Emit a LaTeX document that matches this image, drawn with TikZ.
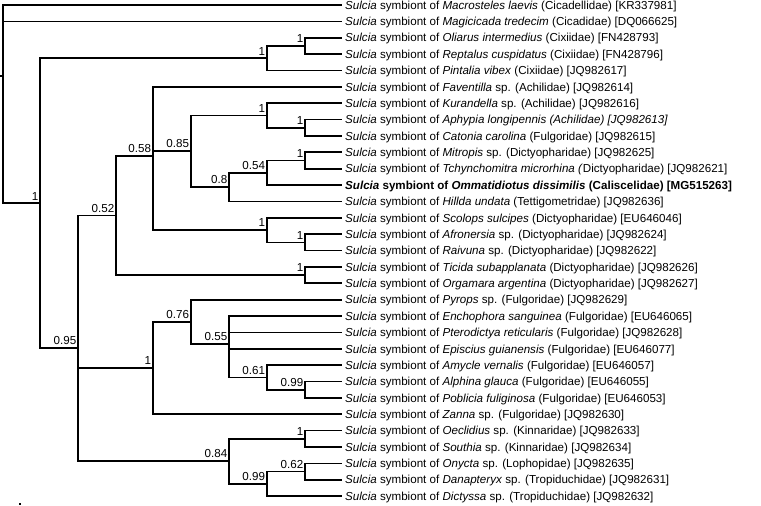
\documentclass[tikz,border=0pt]{standalone}
\usepackage{fontspec}
\setmainfont{Liberation Sans}
\usepackage{tikz}
\tikzstyle{branch} = [draw, line width=1.7pt]
\tikzstyle{leaf} = [anchor=west, inner xsep=3pt, inner ysep=0pt, text depth=0pt,
    font=\fontsize{11.6}{13}\selectfont]
\tikzstyle{support} = [anchor=south east, inner xsep=1.5pt, inner ysep=3pt,
    font=\fontsize{11.6}{13}\selectfont]
\newcommand{\sulcia}{\textit{Sulcia} symbiont of}

\begin{document}
\begin{tikzpicture}[x=1pt, y=-1pt]
    \useasboundingbox (0,0) rectangle (761,506);
    % leaves
    \node [leaf] (l1)  at (342,5.0)   {\sulcia\ \textit{Macrosteles laevis} (Cicadellidae) [KR337981]};
    \node [leaf] (l2)  at (342,21.4)  {\sulcia\ \textit{Magicicada tredecim} (Cicadidae) [DQ066625]};
    \node [leaf] (l3)  at (342,37.7)  {\sulcia\ \textit{Oliarus intermedius} (Cixiidae) [FN428793]};
    \node [leaf] (l4)  at (342,54.1)  {\sulcia\ \textit{Reptalus cuspidatus} (Cixiidae) [FN428796]};
    \node [leaf] (l5)  at (342,70.5)  {\sulcia\ \textit{Pintalia vibex} (Cixiidae) [JQ982617]};
    \node [leaf] (l6)  at (342,86.9)  {\sulcia\ \textit{Faventilla} sp. (Achilidae) [JQ982614]};
    \node [leaf] (l7)  at (342,103.2) {\sulcia\ \textit{Kurandella} sp. (Achilidae) [JQ982616]};
    \node [leaf] (l8)  at (342,119.6) {\sulcia\ \textit{Aphypia longipennis (Achilidae) [JQ982613]}};
    \node [leaf] (l9)  at (342,136.0) {\sulcia\ \textit{Catonia carolina} (Fulgoridae) [JQ982615]};
    \node [leaf] (l10) at (342,152.3) {\sulcia\ \textit{Mitropis} sp. (Dictyopharidae) [JQ982625]};
    \node [leaf] (l11) at (342,168.7) {\sulcia\ \textit{Tchynchomitra microrhina (}Dictyopharidae) [JQ982621]};
    \node [leaf] (l12) at (342,185.1) {\bfseries\sulcia\ \textit{Ommatidiotus dissimilis} (Caliscelidae) [MG515263]};
    \node [leaf] (l13) at (342,201.4) {\sulcia\ \textit{Hillda undata} (Tettigometridae) [JQ982636]};
    \node [leaf] (l14) at (342,217.8) {\sulcia\ \textit{Scolops sulcipes} (Dictyopharidae) [EU646046]};
    \node [leaf] (l15) at (342,234.2) {\sulcia\ \textit{Afronersia} sp. (Dictyopharidae) [JQ982624]};
    \node [leaf] (l16) at (342,250.6) {\sulcia\ \textit{Raivuna} sp. (Dictyopharidae) [JQ982622]};
    \node [leaf] (l17) at (342,266.9) {\sulcia\ \textit{Ticida subapplanata} (Dictyopharidae) [JQ982626]};
    \node [leaf] (l18) at (342,283.3) {\sulcia\ \textit{Orgamara argentina} (Dictyopharidae) [JQ982627]};
    \node [leaf] (l19) at (342,299.7) {\sulcia\ \textit{Pyrops} sp. (Fulgoridae) [JQ982629]};
    \node [leaf] (l20) at (342,316.0) {\sulcia\ \textit{Enchophora sanguinea} (Fulgoridae) [EU646065]};
    \node [leaf] (l21) at (342,332.4) {\sulcia\ \textit{Pterodictya reticularis} (Fulgoridae) [JQ982628]};
    \node [leaf] (l22) at (342,348.8) {\sulcia\ \textit{Episcius guianensis} (Fulgoridae) [EU646077]};
    \node [leaf] (l23) at (342,365.1) {\sulcia\ \textit{Amycle vernalis} (Fulgoridae) [EU646057]};
    \node [leaf] (l24) at (342,381.5) {\sulcia\ \textit{Alphina glauca} (Fulgoridae) [EU646055]};
    \node [leaf] (l25) at (342,397.9) {\sulcia\ \textit{Poblicia fuliginosa} (Fulgoridae) [EU646053]};
    \node [leaf] (l26) at (342,414.2) {\sulcia\ \textit{Zanna} sp. (Fulgoridae) [JQ982630]};
    \node [leaf] (l27) at (342,430.6) {\sulcia\ \textit{Oeclidius} sp. (Kinnaridae) [JQ982633]};
    \node [leaf] (l28) at (342,447.0) {\sulcia\ \textit{Southia} sp. (Kinnaridae) [JQ982634]};
    \node [leaf] (l29) at (342,463.4) {\sulcia\ \textit{Onycta} sp. (Lophopidae) [JQ982635]};
    \node [leaf] (l30) at (342,479.7) {\sulcia\ \textit{Danapteryx} sp. (Tropiduchidae) [JQ982631]};
    \node [leaf] (l31) at (342,496.1) {\sulcia\ \textit{Dictyssa} sp. (Tropiduchidae) [JQ982632]};
    % internal nodes
    \coordinate (stub) at (0,76);
    \coordinate (root) at (3,76);
    \coordinate (A) at (40,203.3);
    \coordinate (C) at (266.7,58.2);
    \coordinate (D) at (305,45.9);
    \coordinate (B) at (78,348.3);
    \coordinate (E) at (116,215.6);
    \coordinate (H) at (152.7,156.1);
    \coordinate (J) at (190.7,151.3);
    \coordinate (M) at (266.7,115.5);
    \coordinate (O) at (305,127.8);
    \coordinate (N) at (229,187.1);
    \coordinate (P) at (266.7,172.8);
    \coordinate (Q) at (305,160.5);
    \coordinate (K) at (266.7,230.1);
    \coordinate (L) at (305,242.4);
    \coordinate (I) at (305,275.1);
    \coordinate (F) at (152.7,368.0);
    \coordinate (R) at (190.7,321.7);
    \coordinate (S) at (229,343.65);
    \coordinate (T) at (266.7,377.4);
    \coordinate (U) at (305,389.7);
    \coordinate (G) at (229,461.3);
    \coordinate (V) at (305,438.8);
    \coordinate (W) at (266.7,483.8);
    \coordinate (X) at (305,471.6);
    % branches
    \draw [branch] (stub) -- (root);
    \draw [branch] (root) |- (l1.west);
    \draw [branch] (root) |- (l2.west);
    \draw [branch] (root) |- (A);
    \draw [branch] (A) |- (C);
    \draw [branch] (A) |- (B);
    \draw [branch] (C) |- (D);
    \draw [branch] (C) |- (l5.west);
    \draw [branch] (D) |- (l3.west);
    \draw [branch] (D) |- (l4.west);
    \draw [branch] (B) |- (E);
    \draw [branch] (B) |- (F);
    \draw [branch] (B) |- (G);
    \draw [branch] (E) |- (H);
    \draw [branch] (E) |- (I);
    \draw [branch] (H) |- (l6.west);
    \draw [branch] (H) |- (J);
    \draw [branch] (H) |- (K);
    \draw [branch] (J) |- (M);
    \draw [branch] (J) |- (N);
    \draw [branch] (M) |- (l7.west);
    \draw [branch] (M) |- (O);
    \draw [branch] (O) |- (l8.west);
    \draw [branch] (O) |- (l9.west);
    \draw [branch] (N) |- (P);
    \draw [branch] (N) |- (l13.west);
    \draw [branch] (P) |- (Q);
    \draw [branch] (P) |- (l12.west);
    \draw [branch] (Q) |- (l10.west);
    \draw [branch] (Q) |- (l11.west);
    \draw [branch] (K) |- (l14.west);
    \draw [branch] (K) |- (L);
    \draw [branch] (L) |- (l15.west);
    \draw [branch] (L) |- (l16.west);
    \draw [branch] (I) |- (l17.west);
    \draw [branch] (I) |- (l18.west);
    \draw [branch] (F) |- (R);
    \draw [branch] (F) |- (l26.west);
    \draw [branch] (R) |- (l19.west);
    \draw [branch] (R) |- (S);
    \draw [branch] (S) |- (l20.west);
    \draw [branch] (S) |- (l21.west);
    \draw [branch] (S) |- (l22.west);
    \draw [branch] (S) |- (T);
    \draw [branch] (T) |- (l23.west);
    \draw [branch] (T) |- (U);
    \draw [branch] (U) |- (l24.west);
    \draw [branch] (U) |- (l25.west);
    \draw [branch] (G) |- (V);
    \draw [branch] (G) |- (W);
    \draw [branch] (V) |- (l27.west);
    \draw [branch] (V) |- (l28.west);
    \draw [branch] (W) |- (X);
    \draw [branch] (W) |- (l31.west);
    \draw [branch] (X) |- (l29.west);
    \draw [branch] (X) |- (l30.west);
    % support values
    \node [support] (sA) at (A) {1};
    \node [support] (sC) at (C) {1};
    \node [support] (sD) at (D) {1};
    \node [support] (sB) at (B) {0.95};
    \node [support] (sE) at (E) {0.52};
    \node [support] (sH) at (H) {0.58};
    \node [support] (sJ) at (J) {0.85};
    \node [support] (sM) at (M) {1};
    \node [support] (sO) at (O) {1};
    \node [support] (sN) at (N) {0.8};
    \node [support] (sP) at (P) {0.54};
    \node [support] (sQ) at (Q) {1};
    \node [support] (sK) at (K) {1};
    \node [support] (sL) at (L) {1};
    \node [support] (sI) at (I) {1};
    \node [support] (sF) at (F) {1};
    \node [support] (sR) at (R) {0.76};
    \node [support] (sS) at (S) {0.55};
    \node [support] (sT) at (T) {0.61};
    \node [support] (sU) at (U) {0.99};
    \node [support] (sG) at (G) {0.84};
    \node [support] (sV) at (V) {1};
    \node [support] (sW) at (W) {0.99};
    \node [support] (sX) at (X) {0.62};
    % scale bar remnant
    \fill (19,502.5) rectangle (21,505);
\end{tikzpicture}
\end{document}
